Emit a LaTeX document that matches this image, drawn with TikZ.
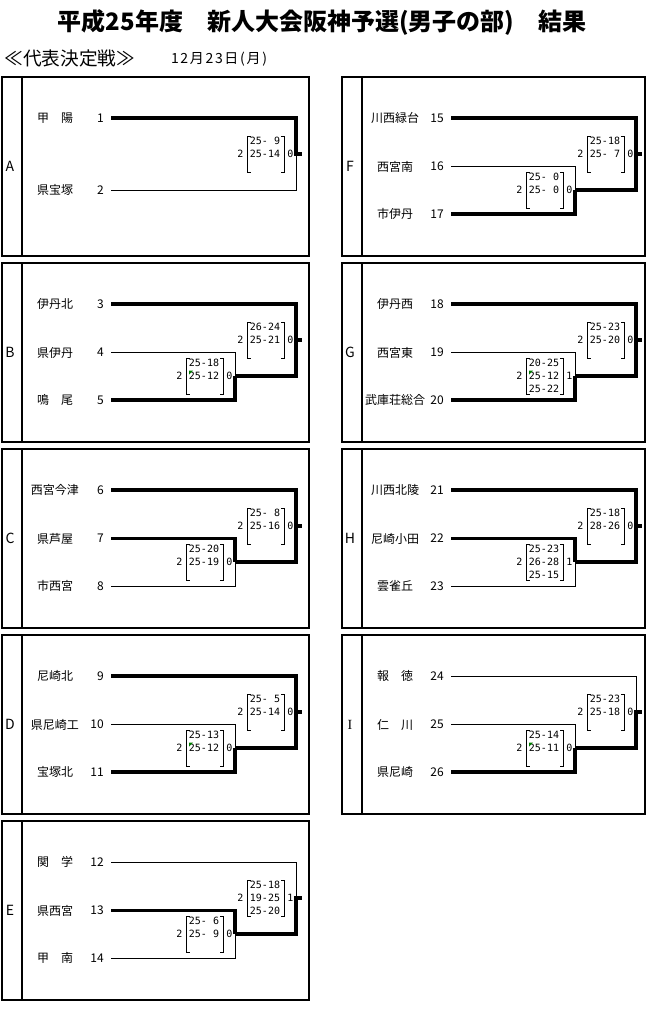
\documentclass[tikz,border=0pt]{standalone}
\usepackage{fontspec}
\setmainfont{Noto Sans CJK JP}
\newfontfamily\scorefont{DejaVu Sans Mono}
\newfontfamily\serifI{Liberation Serif}
\begin{document}
\begin{tikzpicture}[x=0.75pt, y=-0.75pt,
  frame/.style={draw, line width=0.8pt},
  lost/.style={line width=0.75pt},
  won/.style={line width=2.6pt},
  group/.style={font=\fontsize{10.5}{12}\selectfont, inner sep=0pt},
  team/.style={font=\fontsize{9}{11}\selectfont, inner sep=0pt},
  num/.style={font=\fontsize{9}{11}\selectfont, inner sep=0pt, anchor=east},
  score/.style={font=\scorefont\fontsize{7.5}{9}\selectfont, inner sep=0pt, anchor=base},
  excel/.style={fill=green!50!black}]
  \useasboundingbox (0,0) rectangle (651,1015);
  \node[font=\bfseries\fontsize{18}{21}\selectfont] (title) at (322,22) {平成25年度　新人大会阪神予選(男子の部)　結果};
  \node[font=\fontsize{14}{16}\selectfont] (round) at (70,58) {≪代表決定戦≫};
  \node[font=\fontsize{10.5}{12}\selectfont\addfontfeature{LetterSpace=12}] (date) at (219,59) {12月23日(月)};
  \foreach \g/\x/\y/\w/\lab in {A/2/77/307/A, B/2/263/307/B, C/2/449/307/C, D/2/635/307/D, E/2/821/307/E,
    F/342/77/303/F, G/342/263/303/G, H/342/449/303/H, I/342/635/303/{\serifI I}} {
    \draw[frame] (\x,\y) rectangle (\x+\w,\y+179);
    \draw[frame] (\x+20,\y) -- (\x+20,\y+179);
    \node[group] (\g) at (\x+8,\y+89.5) {\lab};
  }
  \foreach \n/\tn/\x/\y in {1/甲　陽/2/118, 2/県宝塚/2/190,
    3/伊丹北/2/304, 4/県伊丹/2/352.5, 5/鳴　尾/2/400,
    6/西宮今津/2/490, 7/県芦屋/2/538.5, 8/市西宮/2/586,
    9/尼崎北/2/676, 10/県尼崎工/2/724.5, 11/宝塚北/2/772,
    12/関　学/2/862, 13/県西宮/2/910.5, 14/甲　南/2/958,
    15/川西緑台/342/118, 16/西宮南/342/166.5, 17/市伊丹/342/214,
    18/伊丹西/342/304, 19/西宮東/342/352.5, 20/武庫荘総合/342/400,
    21/川西北陵/342/490, 22/尼崎小田/342/538.5, 23/雲雀丘/342/586,
    24/報　徳/342/676, 25/仁　川/342/724.5, 26/県尼崎/342/772} {
    \node[team] (n\n) at (\x+53,\y) {\tn};
    \node[num] (m\n) at (\x+102,\y) {\n};
    \coordinate (t\n) at (\x+109,\y);
  }
  \coordinate (fA) at (296,154);
  \coordinate (oA) at (302,154);
  \foreach \g/\x/\y in {B/2/263, C/2/449, D/2/635, E/2/821, F/342/77, G/342/263, H/342/449, I/342/635} {
    \coordinate (s\g) at (\x+233,\y+113);
    \coordinate (f\g) at (\x+294,\y+77);
    \coordinate (o\g) at (\x+300,\y+77);
  }
  \draw[won] (t1) -| (fA) -- (oA);
  \draw[lost] (t2) -| (fA);
  \foreach \g/\p/\q/\k/\wp/\wq/\wk in {B/3/4/5/won/lost/won, C/6/7/8/won/won/lost, D/9/10/11/won/lost/won,
    E/12/13/14/lost/won/lost, F/15/16/17/won/lost/won, G/18/19/20/won/lost/won,
    H/21/22/23/won/won/lost, I/24/25/26/lost/lost/won} {
    \draw[\wp] (t\p) -| (f\g);
    \draw[\wq] (t\q) -| (s\g);
    \draw[\wk] (t\k) -| (s\g);
    \draw[won] (s\g) -| (f\g) -- (o\g);
  }
  \foreach \mt/\pl/\pr/\ra/\rb/\rc in {fA/2/0/25- 9/25-14/{}, sB/2/0/25-18/25-12/{}, fB/2/0/26-24/25-21/{},
    sC/2/0/25-20/25-19/{}, fC/2/0/25- 8/25-16/{}, sD/2/0/25-13/25-12/{}, fD/2/0/25- 5/25-14/{},
    sE/2/0/25- 6/25- 9/{}, fE/2/1/25-18/19-25/25-20, sF/2/0/25- 0/25- 0/{}, fF/2/0/25-18/25- 7/{},
    sG/2/1/20-25/25-12/25-22, fG/2/0/25-23/25-20/{}, sH/2/1/25-23/26-28/25-15, fH/2/0/25-18/28-26/{},
    sI/2/0/25-14/25-11/{}, fI/2/0/25-23/25-18/{}} {
    \path (\mt) +(-31,-9.5) node[score] (\mt-a) {\ra}
      +(-31,3.5) node[score] (\mt-b) {\rb}
      +(-31,16.5) node[score] (\mt-c) {\rc}
      +(-55.5,3.5) node[score] (\mt-l) {\pl}
      +(-5.5,3.5) node[score] (\mt-r) {\pr};
    \draw[lost] (\mt) +(-45.5,-18) -- +(-48.5,-18) -- +(-48.5,18) -- +(-45.5,18)
      +(-15,-18) -- +(-12,-18) -- +(-12,18) -- +(-15,18);
  }
  \foreach \mt in {sB, sD, sG, sI}
    \fill[excel] (\mt) +(-46,-5.5) -- +(-42,-5.5) -- +(-46,-1.5) -- cycle;
\end{tikzpicture}
\end{document}
